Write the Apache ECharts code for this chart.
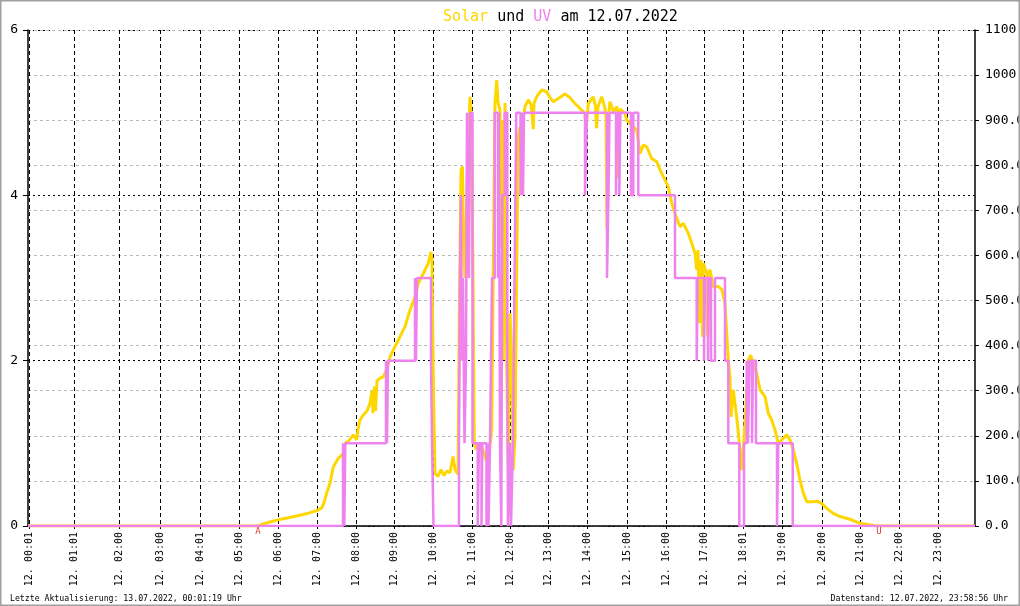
<!DOCTYPE html>
<html><head><meta charset="utf-8">
<script src="https://cdn.jsdelivr.net/npm/echarts@6/dist/echarts.min.js"></script>
<style>html,body{margin:0;padding:0;background:#fff}#c{width:1020px;height:606px}</style>
</head><body><div id="c"></div>
<script>
// x = position in the day's log (sample index), 0 .. 947
const xMax = 947;
const tickIdx = [1,46,91,132,172,211,250,289,328,366,405,444,482,520,559,599,638,676,715,754,794,832,871,910];
const tickLabels = ['12. 00:01','12. 01:01','12. 02:00','12. 03:00','12. 04:01','12. 05:00','12. 06:00','12. 07:00','12. 08:00','12. 09:00','12. 10:00','12. 11:00','12. 12:00','12. 13:00','12. 14:00','12. 15:00','12. 16:00','12. 17:00','12. 18:01','12. 19:00','12. 20:00','12. 21:00','12. 22:00','12. 23:00'];

// Solar radiation W/m² (right axis)
const solar = [
[0,0],[230,0],[236,5],[242,9],[248.7,13],[258,17],[268.7,22],[278,27],[288.7,34],[293.7,40],[296,52],[298.7,73],[302,95],[305.3,131],[310.3,150],[315.3,161],[317,183],[321,190],[325.3,202],[328.7,191],[330,215],[332,235],[335.3,246],[339,255],[342,272],[344,300],[345,250],[346.5,310],[347.5,255],[349,322],[352,328],[355.3,331],[358.7,346],[362,375],[367,398],[372,420],[377,442],[382,479],[387,508],[390.3,538],[395.3,560],[400.3,583],[403,608],[404,590],[404.5,472],[405.5,300],[407,117],[410,110],[413,125],[416,112],[419,122],[422,118],[425,154],[427,125],[430,115],[431.3,468],[433,790],[434.5,797],[435.5,620],[437,550],[438.5,700],[440,830],[442,952],[443.5,900],[445,553],[446.3,184],[448,170],[450,185],[452,165],[454,175],[456,160],[458.7,143],[461,160],[463.7,213],[465.3,568],[467,938],[468.7,989],[470,940],[472,922],[473,620],[474,900],[475.3,368],[477,938],[478.7,360],[480.3,124],[482,472],[483.7,375],[485.3,124],[487,198],[488.7,568],[490.3,863],[492,885],[493.5,820],[495.3,908],[497,930],[500.3,945],[503,935],[505.3,880],[506,938],[508.7,952],[513.7,967],[518.7,963],[522,950],[525.3,941],[530.3,948],[532,945],[537,958],[542,950],[545.3,941],[552,926],[557,915],[558,880],[560.3,937],[565.3,952],[567.5,930],[568.5,882],[570,930],[573.7,952],[577,926],[578,905],[579,661],[580,900],[582,941],[585.3,919],[589,930],[590.5,772],[592,925],[597,915],[598.7,900],[603.7,889],[608.7,878],[612,826],[615.3,845],[618.7,841],[623.7,815],[628.7,808],[632,790],[637,767],[640.3,752],[643.7,716],[647,693],[652,664],[655.3,671],[660.3,649],[663.7,627],[667,605],[668.7,568],[670,612],[671.5,450],[673,590],[674.5,420],[675.3,583],[678.7,560],[679.5,420],[680.5,560],[682,568],[685.3,531],[690.3,531],[693.7,525],[697,494],[698.7,428],[700.3,368],[702,330],[703,242],[705.3,302],[708.7,242],[712,169],[713.7,124],[715,160],[717,228],[720.3,368],[722.7,379],[725.3,361],[728.7,339],[732,302],[737,287],[740.3,250],[743.7,235],[747,213],[750.3,183],[753.7,191],[758.7,202],[762,191],[765.3,169],[768.7,139],[772,102],[775.3,73],[778.7,54],[785.3,54],[789,55],[793.7,50],[798.7,39],[805.3,28],[812,21],[822,15],[832,6],[842,2],[849,0],[947,0]
];

// UV index (left axis), change points
const uv = [
[0,0],[315,1],[316.3,0],[317.3,1],[358,2],[359,1],[360,2],[387,3],[388,2],[389,3],[403,2],[404,1],[405.5,0],
[431,1],[432,3],[433,4],[434,2],[435,3],[436.5,1],[438,2],[439,5],[441,3],[442,5],[444.5,1],[449.7,0],[451,1],[453.5,0],[454.3,1],[458.5,0],[459.5,1],[460.5,0],[462,1],[464,3],[466.7,5],[470,3],[471,5],[472,1],[473.3,0],[474.3,4],[476.7,5],[479.3,2],[480,0],[482,1],[483,0],[485,1],[486.5,3],[488.3,5],[492.5,4],[493.5,5],[495,4],[496,5],
[557,4],[559,5],[579,3],[580.5,4],[581.5,5],[588,4],[589,5],[591.3,4],[592.3,5],[603,4],[605.3,5],[610.3,4],[647,3],[668.7,2],[669.7,3],[676,2],[677,3],[680,2],[680.7,3],[683,2],[687,3],[697,2],[700.3,1],[711.3,0],[716,1],[718.7,2],[720,1],[721.5,2],[724,1],[725,2],[728,1],[749,0],[750.3,1],[764.7,0],[947,0]
];

// sunrise (A = Aufgang) / sunset (U = Untergang)
const sunEvents = [[230,0,'A'],[851,0,'U']];

const titleText = '{s|Solar} und {u|UV} am 12.07.2022';
const footerLeft = 'Letzte Aktualisierung: 13.07.2022, 00:01:19 Uhr';
const footerRight = 'Datenstand: 12.07.2022, 23:58:56 Uhr';

const MONO = '"DejaVu Sans Mono", "Liberation Mono", monospace';
const chart = echarts.init(document.getElementById('c'), null, {renderer: 'canvas'});
chart.setOption({
  animation: false,
  backgroundColor: '#fff',
  title: {
    text: titleText, left: 438, top: 5,
    textStyle: {
      fontFamily: MONO, fontSize: 15, fontWeight: 'normal', color: '#000',
      rich: {
        s: {fontFamily: MONO, fontSize: 15, color: '#FFD700'},
        u: {fontFamily: MONO, fontSize: 15, color: '#EE82EE'}
      }
    }
  },
  grid: {left: 28, right: 45, top: 30, bottom: 80, containLabel: false, outerBoundsMode: 'none'},
  xAxis: {
    type: 'value', min: 0, max: xMax,
    axisLine: {show: true, onZero: false, lineStyle: {color: '#000', width: 1.5}},
    axisTick: {show: true, customValues: tickIdx, length: 3, lineStyle: {color: '#000'}},
    axisLabel: {customValues: tickIdx, rotate: 90, margin: 6, fontFamily: MONO, fontSize: 10, color: '#000',
      formatter: v => tickLabels[tickIdx.indexOf(v)]},
    splitLine: {show: true, lineStyle: {color: '#000', type: [4, 3], width: 1}}
  },
  yAxis: [
    {type: 'value', min: 0, max: 6, interval: 2, position: 'left',
      axisLine: {show: true, lineStyle: {color: '#000', width: 1.5}},
      axisTick: {show: true, length: 5, lineStyle: {color: '#000'}},
      axisLabel: {fontFamily: MONO, fontSize: 13, color: '#000', margin: 10},
      splitLine: {show: true, lineStyle: {color: '#000', type: [2, 3], width: 1}}},
    {type: 'value', min: 0, max: 1100, interval: 100, position: 'right',
      axisLine: {show: true, lineStyle: {color: '#000', width: 1.5}},
      axisTick: {show: true, length: 4, lineStyle: {color: '#000'}},
      axisLabel: {fontFamily: MONO, fontSize: 13, color: '#000', margin: 10, formatter: v => v.toFixed(1)},
      splitLine: {show: true, lineStyle: {color: '#bbb', type: [3, 3], width: 1}}}
  ],
  series: [
    {name: 'Solar', type: 'line', yAxisIndex: 1, data: solar, showSymbol: false, symbol: 'none',
      lineStyle: {color: '#FFD700', width: 3}, z: 3},
    {name: 'UV', type: 'line', yAxisIndex: 0, data: uv, step: 'end', showSymbol: false, symbol: 'none',
      lineStyle: {color: '#EE82EE', width: 2.5}, z: 4},
    {name: 'Sonne', type: 'scatter', yAxisIndex: 1, data: sunEvents, symbolSize: 1,
      itemStyle: {color: 'rgba(0,0,0,0)'}, z: 5,
      label: {show: true, position: 'bottom', distance: 1, formatter: p => p.value[2],
        color: '#e00000', fontFamily: MONO, fontSize: 9}}
  ],
  graphic: [
    {type: 'text', x: 10, y: 599, style: {text: footerLeft, fontFamily: MONO, fontSize: 8.2, fill: '#000', align: 'left', verticalAlign: 'middle'}},
    {type: 'text', x: 1008, y: 599, style: {text: footerRight, fontFamily: MONO, fontSize: 8.2, fill: '#000', align: 'right', verticalAlign: 'middle'}},
    {type: 'rect', shape: {x: 0.5, y: 0.5, width: 1019, height: 605}, style: {fill: null, stroke: '#a0a0a0', lineWidth: 2}, z: 100, silent: true}
  ]
});
</script></body></html>
